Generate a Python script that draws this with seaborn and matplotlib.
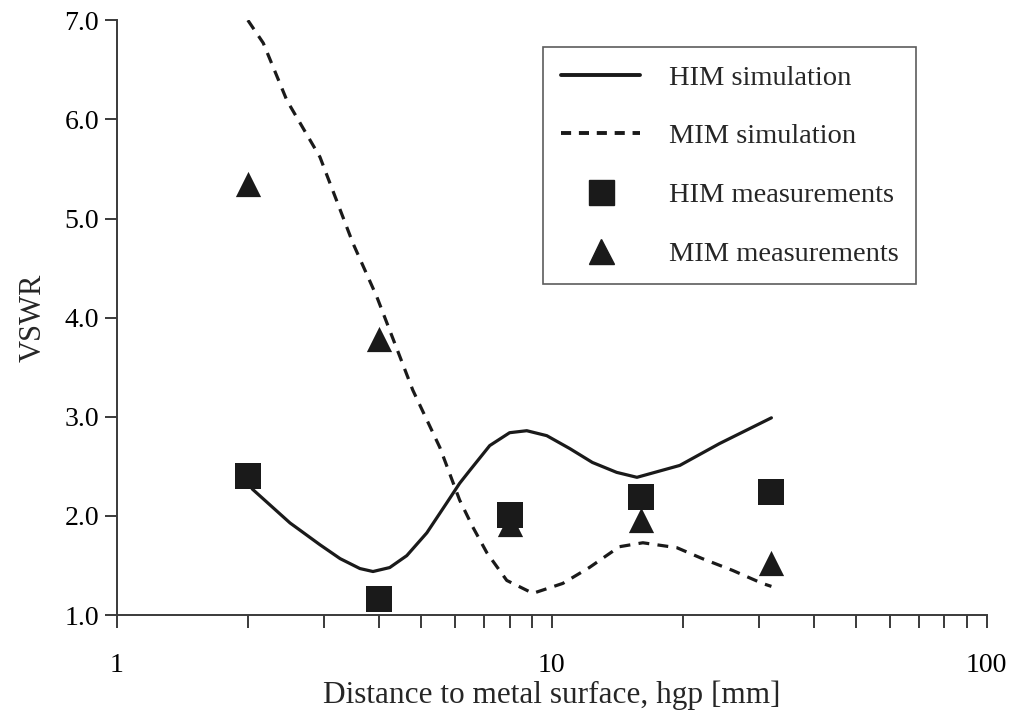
import matplotlib
matplotlib.use("Agg")
import matplotlib.pyplot as plt
import seaborn as sns
import numpy as np
from matplotlib.lines import Line2D
from matplotlib.ticker import FixedLocator, LogLocator, NullFormatter, FormatStrFormatter

# ---- data ----
him_sim_x = [2.0, 2.05, 2.50, 2.63, 2.93, 3.26, 3.62, 3.88, 4.24, 4.64, 5.16, 5.73, 6.14,
             6.48, 7.20, 8.0, 8.76, 9.74, 11.0, 12.4, 14.1, 15.7, 19.7, 24.3, 32.0]
him_sim_y = [2.34, 2.27, 1.93, 1.86, 1.71, 1.57, 1.47, 1.44, 1.48, 1.60, 1.83, 2.13, 2.33,
             2.46, 2.71, 2.84, 2.86, 2.81, 2.68, 2.54, 2.44, 2.39, 2.51, 2.73, 2.99]

mim_sim_x = [2.0, 2.17, 2.46, 2.93, 3.49, 3.96, 4.79, 5.53, 6.14, 6.58, 7.09, 7.88, 9.05,
             10.6, 12.2, 14.3, 16.2, 19.4, 22.2, 26.1, 30.5, 32.0]
mim_sim_y = [7.0, 6.77, 6.19, 5.62, 4.75, 4.21, 3.27, 2.69, 2.16, 1.89, 1.63, 1.35, 1.22,
             1.32, 1.48, 1.69, 1.73, 1.68, 1.57, 1.45, 1.32, 1.29]

meas_x = [2, 4, 8, 16, 32]
him_meas_y = [2.40, 1.16, 2.01, 2.19, 2.24]
mim_meas_y = [5.35, 3.79, 1.92, 1.96, 1.53]

y_ticks = [1.0, 2.0, 3.0, 4.0, 5.0, 6.0, 7.0]
x_ticks = [1, 10, 100]
labels = ["HIM simulation", "MIM simulation", "HIM measurements", "MIM measurements"]

# ---- style ----
sns.set_style("ticks")
plt.rcParams["font.family"] = ["Liberation Serif", "DejaVu Serif"]
plt.rcParams["font.size"] = 20
plt.rcParams["lines.solid_joinstyle"] = "round"
plt.rcParams["lines.dash_joinstyle"] = "round"

ink = "#1a1a1a"
axis_col = "#3a3a3a"

fig = plt.figure(figsize=(10.10, 7.22), dpi=100)
ax = fig.add_axes([0.1158, 0.148, 0.861, 0.824])

dash = (3.4, 2.6)
sns.lineplot(x=him_sim_x, y=him_sim_y, ax=ax, color=ink, linewidth=2.3,
             sort=False, estimator=None)
sns.lineplot(x=mim_sim_x, y=mim_sim_y, ax=ax, color=ink, linewidth=2.3,
             sort=False, estimator=None)
ax.lines[-1].set_dashes(dash)

sns.scatterplot(x=meas_x, y=mim_meas_y, ax=ax, marker="^", s=330, color=ink,
                linewidth=0, zorder=4)
sns.scatterplot(x=meas_x, y=him_meas_y, ax=ax, marker="s", s=330, color=ink,
                linewidth=0, zorder=5)

ax.set_xscale("log")
ax.set_xlim(1, 100)
ax.set_ylim(1.0, 7.0)
ax.xaxis.set_major_locator(FixedLocator(x_ticks))
ax.set_xticklabels([str(v) for v in x_ticks])
ax.xaxis.set_minor_locator(LogLocator(base=10, subs=np.arange(2, 10)))
ax.xaxis.set_minor_formatter(NullFormatter())
ax.yaxis.set_major_locator(FixedLocator(y_ticks))
ax.yaxis.set_major_formatter(FormatStrFormatter("%.1f"))

sns.despine(ax=ax)
for s in ["left", "bottom"]:
    ax.spines[s].set_color(axis_col)
    ax.spines[s].set_linewidth(1.4)

ax.tick_params(axis="x", which="both", direction="out", length=9, width=1.4,
               color=axis_col, pad=18, labelsize=20, labelcolor="black")
ax.tick_params(axis="y", which="major", direction="out", length=9, width=1.4,
               color=axis_col, pad=4, labelsize=20, labelcolor="black")

ax.set_xlabel("Distance to metal surface, hgp [mm]", fontsize=22.5, labelpad=2)
ax.set_ylabel("VSWR", fontsize=22, labelpad=12)

handles = [
    Line2D([0], [0], color=ink, linewidth=2.8),
    Line2D([0], [0], color=ink, linewidth=2.8, dashes=(2.6, 2.0)),
    Line2D([0], [0], color=ink, marker="s", markersize=18, linestyle="none"),
    Line2D([0], [0], color=ink, marker="^", markersize=18, linestyle="none"),
]
leg = ax.legend(handles, labels, loc="upper left", bbox_to_anchor=(0.49, 0.955),
                frameon=True, fancybox=False, fontsize=20.5, handlelength=2.8,
                handletextpad=1.0, labelspacing=1.15, borderpad=0.62,
                borderaxespad=0)
leg.get_frame().set_edgecolor("#333333")
leg.get_frame().set_linewidth(1.2)

fig.savefig("out.png", dpi=100)
